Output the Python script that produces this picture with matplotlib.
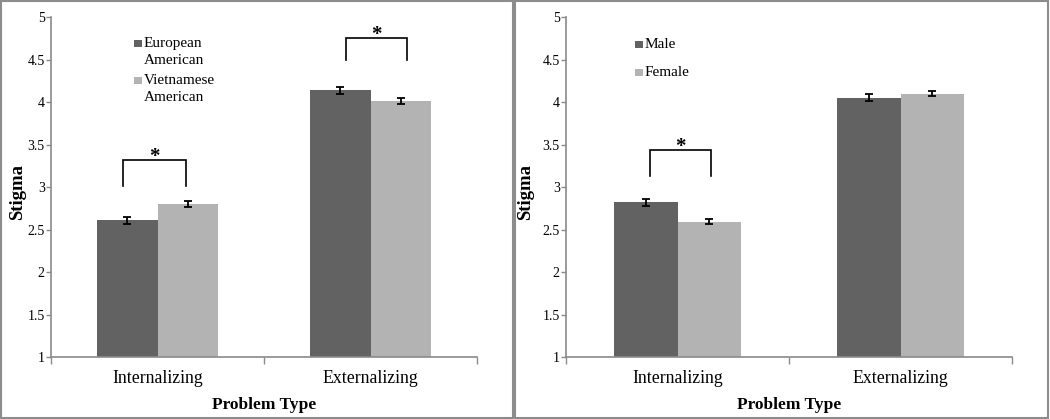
import matplotlib
matplotlib.use("Agg")
import matplotlib.pyplot as plt
from matplotlib.patches import Rectangle
import numpy as np

categories = ["Internalizing", "Externalizing"]

# Left panel: ethnicity
eth_labels = ["European\nAmerican", "Vietnamese\nAmerican"]
eth_values = [[2.61, 4.14], [2.80, 4.01]]
eth_errors = [[0.04, 0.04], [0.035, 0.035]]
eth_brackets = [(-0.161, 0.132, 3.015, 3.32), (0.884, 1.17, 4.49, 4.75)]

# Right panel: gender
gen_labels = ["Male", "Female"]
gen_values = [[2.82, 4.05], [2.59, 4.10]]
gen_errors = [[0.04, 0.04], [0.03, 0.03]]
gen_brackets = [(-0.125, 0.150, 3.13, 3.44)]

yticks = [1, 1.5, 2, 2.5, 3, 3.5, 4, 4.5, 5]
ytick_labels = ["1", "1.5", "2", "2.5", "3", "3.5", "4", "4.5", "5"]

colors = ["#626262", "#b3b3b3"]
axis_col = "#8a8a8a"
serif = ["Liberation Serif", "DejaVu Serif"]

W, H = 1050, 419
fig = plt.figure(figsize=(W / 100, H / 100), dpi=100)
fig.patch.set_facecolor("white")

def fx(px):
    return px / W

def fy(py):
    return (H - py) / H

def px_ax(x0, x1, y_top, y_bot):
    return fig.add_axes([fx(x0), fy(y_bot), (x1 - x0) / W, (y_bot - y_top) / H])

def draw_legend(labels, sq_x, sq_tops, text_baselines, pitch=16.5):
    for lab, c, st, tb in zip(labels, colors, sq_tops, text_baselines):
        fig.patches.append(Rectangle((fx(sq_x), fy(st + 7.5)), 8 / W, 7.5 / H,
                                     transform=fig.transFigure, facecolor=c,
                                     edgecolor="none"))
        for k, line in enumerate(lab.split("\n")):
            fig.text(fx(sq_x + 10), fy(tb + k * pitch), line, ha="left",
                     va="baseline", family=serif, fontsize=11)

def draw_panel(ax, values, errors, brackets, ylabel_x):
    x = np.arange(len(categories))
    bw = 0.286
    for i in range(2):
        offs = (i - 0.5) * bw
        ax.bar(x + offs, values[i], bw, bottom=0, color=colors[i], zorder=2)
        ax.errorbar(x + offs, values[i], yerr=errors[i], fmt="none", ecolor="black",
                    elinewidth=1.3, capsize=2.6, capthick=1.3, zorder=3)
    for (xa, xb, yb, yt) in brackets:
        ax.plot([xa, xa, xb, xb], [yb, yt, yt, yb], color="black", lw=1.2,
                solid_joinstyle="miter", zorder=3)
        ax.annotate("*", ((xa + xb) / 2, yt), xytext=(0, 2.0),
                    textcoords="offset points", ha="center", va="center",
                    fontsize=15, fontweight="bold", family=serif)
    ax.set_xlim(-0.5, 1.5)
    ax.set_ylim(1, 5)
    ax.set_yticks(yticks)
    ax.set_yticklabels(ytick_labels, family=serif, fontsize=10)
    ax.set_xticks([-0.5, 0.5, 1.5], minor=False)
    ax.set_xticklabels([])
    ax.set_xticks(x, minor=True)
    ax.set_xticklabels(categories, minor=True, family=serif, fontsize=12.8)
    ax.tick_params(axis="x", which="major", length=5, color=axis_col, width=1)
    ax.tick_params(axis="x", which="minor", length=0, pad=9.5)
    ax.tick_params(axis="y", length=3.5, color=axis_col, width=1, pad=1)
    for s in ["top", "right"]:
        ax.spines[s].set_visible(False)
    for s in ["left", "bottom"]:
        ax.spines[s].set_color(axis_col)
        ax.spines[s].set_linewidth(1.2)
    ax.set_ylabel("Stigma", family=serif, fontsize=13.5, fontweight="bold")
    ax.yaxis.set_label_coords(ylabel_x, (357 - 192) / 340)
    ax.set_xlabel("Problem Type", family=serif, fontsize=12.5, fontweight="bold")
    ax.xaxis.set_label_coords(0.5, (357 - 397) / 340)
    return ax

axL = px_ax(51, 477, 17, 357)
draw_panel(axL, eth_values, eth_errors, eth_brackets, -25 / 426)
draw_legend(eth_labels, 134, [40, 77], [47, 84])

axR = px_ax(566, 1012, 17, 357)
draw_panel(axR, gen_values, gen_errors, gen_brackets, -32 / 446)
draw_legend(gen_labels, 635, [41, 69], [48, 76])

# panel borders
fig.patches.append(Rectangle((1 / W, 1 / H), 511.5 / W, 416.5 / H, transform=fig.transFigure,
                             fill=False, edgecolor="#8c8c8c", lw=1.5))
fig.patches.append(Rectangle((514.5 / W, 1 / H), 533.5 / W, 416.5 / H, transform=fig.transFigure,
                             fill=False, edgecolor="#8c8c8c", lw=1.5))

fig.savefig("out.png", dpi=100, facecolor="white")
